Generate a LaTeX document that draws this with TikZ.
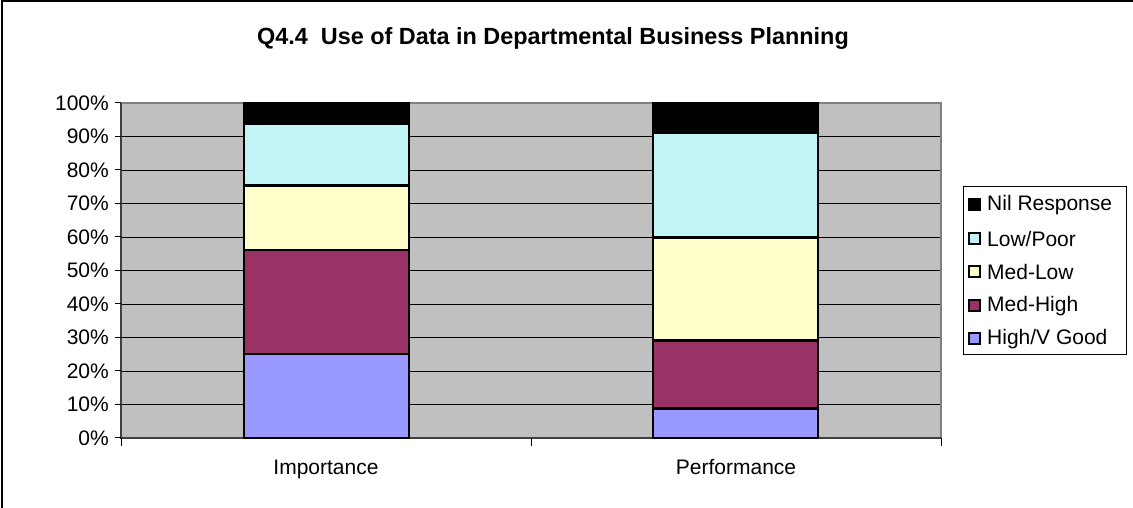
\documentclass[tikz,border=0pt]{standalone}
\usepackage{fontspec}
\setmainfont{Liberation Sans}
\definecolor{hvgood}{HTML}{9999FF}
\definecolor{medhigh}{HTML}{993366}
\definecolor{medlow}{HTML}{FFFFCC}
\definecolor{lowpoor}{HTML}{C2F4F6}
\definecolor{plotbg}{HTML}{C0C0C0}
\begin{document}
\begin{tikzpicture}[x=1pt,y=1pt,line cap=butt,line join=miter]
\tikzset{declare function={py(\p)=70+3.35*\p;},
seg/.style={draw=black,line width=2.8pt},
lab/.style={font=\fontsize{21}{25}\selectfont,inner sep=0pt},
swatch/.style={draw=black,line width=2pt,minimum size=11pt,inner sep=0pt},
grid line/.style={line width=0.9pt}
}
\useasboundingbox (0,0) rectangle (1133,508);
\draw[line width=1.6pt] (2,0)--(2,507)--(1133,507);
% title
\node[lab,font=\bfseries\fontsize{23.4}{28}\selectfont,anchor=base] (title) at (553,463) {Q4.4\ \ Use of Data in Departmental Business Planning};
% plot area
\fill[plotbg] (121,{py(0)}) rectangle (941,{py(100)});
\foreach \p in {10,20,...,90}
  \draw[grid line] (121,{py(\p)})--(941,{py(\p)});
\draw[gray,line width=1.4pt] (121,{py(100)})--(941,{py(100)})--(941,{py(0)});
\draw[black!75,line width=1.8pt] (121,{py(100)})--(121,{py(0)})--(941,{py(0)});
\foreach \p in {0,10,...,100}{
  \draw[line width=1pt] (115,{py(\p)})--(121,{py(\p)});
  \node[lab,anchor=east] (t\p) at (109,{py(\p)}) {\p\%};
}
\foreach \x in {121,531,941}
  \draw[line width=1pt] (\x,{py(0)})--(\x,{py(0)-8});
% bars
\foreach \x/\a/\b/\c/\d in {244/25.1/56.1/75.4/93.9,653/8.9/29/59.8/91.1}{
  \draw[seg,fill=hvgood] (\x,{py(0)}) rectangle (\x+165,{py(\a)});
  \draw[seg,fill=medhigh] (\x,{py(\a)}) rectangle (\x+165,{py(\b)});
  \draw[seg,fill=medlow] (\x,{py(\b)}) rectangle (\x+165,{py(\c)});
  \draw[seg,fill=lowpoor] (\x,{py(\c)}) rectangle (\x+165,{py(\d)});
  \draw[seg,fill=black] (\x,{py(\d)}) rectangle (\x+165,{py(100)});
}
\node[lab,anchor=base] (imp) at (326,33) {Importance};
\node[lab,anchor=base] (perf) at (736,33) {Performance};
% legend
\draw[line width=1pt] (963,153) rectangle (1126,321);
\foreach \y/\c/\t [count=\i] in {303/black/{Nil Response},269/lowpoor/{Low/Poor},236/medlow/{Med-Low},202/medhigh/{Med-High},169/hvgood/{High/V Good}}{
  \node[swatch,fill=\c] (s\i) at (974,\y) {};
  \node[lab,anchor=west] (l\i) at (987,\y) {\t};
}
\end{tikzpicture}
\end{document}
